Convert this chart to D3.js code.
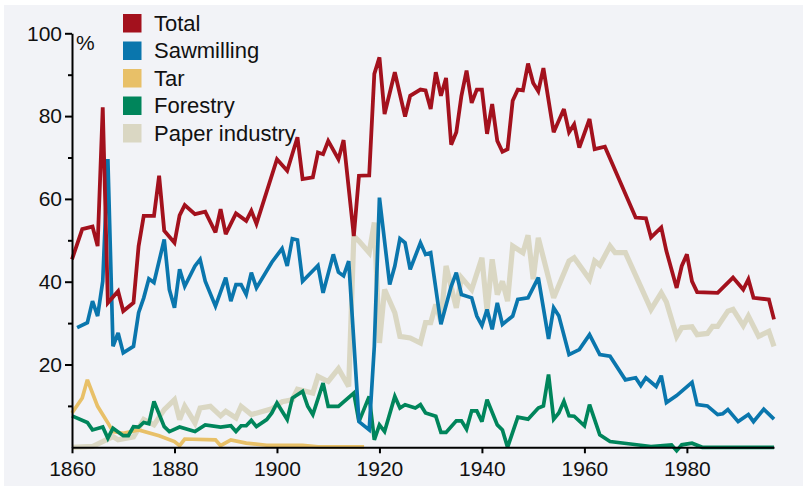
<!DOCTYPE html>
<html>
<head>
<meta charset="utf-8">
<script src="https://cdn.jsdelivr.net/npm/d3@7"></script>
<style>
  html, body { margin: 0; padding: 0; background: #fff; }
  svg { display: block; font-family: "Liberation Sans", Arial, Helvetica, sans-serif; }
</style>
</head>
<body>
<svg id="chart" width="803" height="486"></svg>
<script>
// Share of each branch, % per year: [year, value]
const total = [
  [1860,45.4],[1862,52.7],[1864,53.3],[1865,48.6],[1866,82.1],[1867,34.9],[1869,37.7],[1870,32.9],
  [1872,34.9],[1873,48.6],[1874,55.9],[1876,55.9],[1877,65.6],[1878,52.3],[1880,49.4],[1881,56.0],
  [1882,58.5],[1884,56.3],[1886,56.9],[1888,51.9],[1889,57.5],[1890,51.5],[1892,56.5],[1894,54.7],
  [1895,57.1],[1896,54.0],[1900,69.6],[1902,66.8],[1904,74.9],[1905,64.8],[1907,65.2],[1908,71.2],
  [1909,70.8],[1910,74.0],[1912,69.6],[1913,74.2],[1915,51.0],[1916,65.6],[1918,65.7],[1919,90.2],
  [1920,94.2],[1921,80.5],[1923,90.6],[1925,79.9],[1926,84.9],[1928,86.4],[1929,86.2],[1930,81.7],
  [1931,90.6],[1932,84.9],[1933,89.2],[1934,73.1],[1935,76.1],[1936,84.9],[1937,91.0],[1938,83.2],
  [1939,86.4],[1940,86.4],[1941,75.7],[1942,82.9],[1943,74.0],[1944,71.4],[1945,72.0],[1946,83.7],
  [1947,86.4],[1948,86.2],[1949,92.7],[1950,88.0],[1951,86.0],[1952,91.6],[1954,76.1],[1956,81.7],
  [1957,76.1],[1958,78.0],[1959,72.4],[1961,79.3],[1962,72.0],[1964,72.6],[1970,55.5],[1972,55.3],
  [1973,50.7],[1975,53.1],[1976,47.4],[1978,38.5],[1979,43.8],[1980,46.6],[1981,40.1],[1982,37.5],
  [1986,37.3],[1989,41.0],[1991,38.1],[1992,40.6],[1993,36.1],[1996,35.7],[1997,30.9]
];

const sawmilling = [
  [1861,28.9],[1863,30.1],[1864,35.3],[1865,31.7],[1866,40.1],[1867,69.6],[1868,24.4],[1869,27.6],
  [1870,22.8],[1872,24.4],[1873,32.5],[1874,36.1],[1875,40.7],[1876,39.8],[1878,50.2],[1879,38.1],
  [1880,33.7],[1881,43.0],[1882,38.9],[1884,43.8],[1885,45.4],[1886,40.1],[1888,34.1],[1890,41.0],
  [1891,35.3],[1892,39.3],[1893,39.3],[1894,36.9],[1895,42.2],[1896,38.5],[1899,44.7],[1901,48.0],
  [1902,43.8],[1903,50.4],[1904,50.1],[1905,40.1],[1908,43.9],[1909,37.3],[1911,46.6],[1912,42.3],
  [1913,41.4],[1914,45.0],[1916,6.2],[1918,4.2],[1919,24.4],[1920,60.3],[1922,39.3],[1923,43.8],
  [1924,50.4],[1925,49.4],[1926,43.0],[1928,49.4],[1929,46.6],[1930,47.0],[1932,29.7],[1934,38.9],
  [1935,42.2],[1936,36.9],[1938,36.1],[1939,31.7],[1940,29.4],[1941,33.3],[1942,28.5],[1943,34.9],
  [1944,29.7],[1946,31.7],[1947,35.7],[1949,36.1],[1951,41.0],[1953,26.2],[1954,33.7],[1955,31.8],
  [1957,22.4],[1959,23.6],[1961,27.2],[1963,22.4],[1965,22.0],[1968,16.3],[1970,16.8],[1971,14.9],
  [1972,16.8],[1974,14.7],[1975,17.3],[1976,10.8],[1978,12.5],[1981,15.7],[1982,10.3],[1984,10.0],
  [1986,7.9],[1987,8.1],[1988,9.1],[1990,6.2],[1992,7.9],[1993,6.2],[1995,9.2],[1997,6.8]
];

const tar = [
  [1860,8.3],[1862,11.9],[1863,16.3],[1865,9.9],[1867,5.9],[1868,3.8],[1870,3.4],[1873,4.2],
  [1877,2.8],[1880,1.4],[1881,0.4],[1882,2.0],[1888,1.8],[1889,0.4],[1891,1.8],[1894,1.0],
  [1898,0.5],[1905,0.5],[1908,0.1],[1917,0.1]
];

const forestry = [
  [1860,7.6],[1863,6.0],[1864,4.2],[1866,4.9],[1867,2.2],[1868,4.6],[1870,2.8],[1871,2.8],
  [1872,5.0],[1873,4.9],[1874,6.0],[1875,5.7],[1876,11.1],[1878,5.0],[1879,3.8],[1881,4.9],
  [1884,3.8],[1886,5.4],[1889,4.9],[1891,5.2],[1892,3.8],[1893,5.2],[1894,5.2],[1895,6.5],
  [1896,5.0],[1898,6.7],[1899,8.3],[1900,10.7],[1902,6.7],[1903,11.9],[1905,13.5],[1906,9.9],
  [1907,7.9],[1909,15.5],[1910,9.9],[1912,9.9],[1915,13.1],[1916,6.2],[1918,12.3],[1919,1.8],
  [1920,5.4],[1921,3.8],[1923,12.3],[1924,9.5],[1925,10.3],[1927,9.5],[1928,10.3],[1929,8.3],
  [1931,7.5],[1932,3.6],[1933,3.6],[1935,6.4],[1936,6.4],[1937,4.4],[1938,8.8],[1939,8.8],
  [1940,6.2],[1941,11.5],[1943,5.4],[1944,4.2],[1945,0.0],[1947,7.3],[1949,6.8],[1951,9.5],
  [1952,10.0],[1953,17.6],[1954,6.8],[1955,8.3],[1956,11.1],[1957,7.6],[1958,7.5],[1960,5.2],
  [1961,10.3],[1963,3.0],[1965,1.4],[1969,0.8],[1973,0.2],[1977,0.6],[1978,-0.8],[1979,0.6],
  [1981,1.0],[1983,0.0],[1997,0.0]
];

const paper = [
  [1860,0.0],[1864,0.2],[1868,2.6],[1869,1.8],[1872,2.5],[1874,6.7],[1876,5.4],[1878,9.1],
  [1880,11.5],[1881,6.7],[1882,9.9],[1884,5.9],[1885,9.5],[1887,9.9],[1889,7.6],[1890,8.7],
  [1892,7.1],[1893,9.9],[1895,7.9],[1899,9.3],[1901,11.0],[1903,11.5],[1904,14.0],[1907,13.1],
  [1908,17.1],[1910,15.9],[1912,19.0],[1914,14.7],[1915,51.0],[1916,49.8],[1918,47.0],[1919,54.3],
  [1920,25.2],[1921,38.1],[1923,32.5],[1924,26.8],[1926,26.4],[1928,25.2],[1929,30.1],[1930,30.1],
  [1931,34.5],[1932,30.5],[1933,43.8],[1935,33.7],[1936,41.0],[1938,38.1],[1940,45.8],[1941,32.9],
  [1942,45.4],[1943,36.9],[1944,40.1],[1945,35.3],[1946,48.6],[1948,47.0],[1949,51.2],[1950,40.6],
  [1951,50.6],[1954,36.1],[1957,45.0],[1958,45.8],[1961,40.6],[1962,45.0],[1963,44.0],[1965,48.6],
  [1966,47.0],[1968,47.0],[1973,33.3],[1975,37.3],[1976,35.1],[1978,26.8],[1979,28.9],[1981,29.1],
  [1982,27.2],[1984,27.5],[1985,29.2],[1986,29.2],[1988,32.9],[1989,33.3],[1991,29.4],[1992,31.7],
  [1994,26.8],[1996,28.0],[1997,24.4]
];

const yearTicks = [1860, 1880, 1900, 1920, 1940, 1960, 1980];
const pctTicks = [20, 40, 60, 80, 100];
const pctMinorTicks = [10, 30, 50, 70, 90];

const legendNames = ["Total", "Sawmilling", "Tar", "Forestry", "Paper industry"];
const legendColors = ["#a3111d", "#0a76ad", "#e8c068", "#00855b", "#dad7c3"];

const svg = d3.select("#chart");

// panel background
svg.append("rect")
  .attr("x", 4).attr("y", 5)
  .attr("width", 799).attr("height", 481)
  .attr("fill", "#f2f3f7");

const x = d3.scaleLinear().domain([1860, 1997]).range([72, 774]);
const y = d3.scaleLinear().domain([0, 100]).range([447.3, 33.3]);

const line = d3.line()
  .x(d => x(d[0]))
  .y(d => y(d[1]));

// series, back to front
const seriesDraw = [
  { data: paper,      color: legendColors[4], width: 5.2 },
  { data: tar,        color: legendColors[2], width: 3.7 },
  { data: forestry,   color: legendColors[3], width: 3.7 },
  { data: sawmilling, color: legendColors[1], width: 3.7 },
  { data: total,      color: legendColors[0], width: 3.8 }
];

const plot = svg.append("g");
seriesDraw.forEach(s => {
  plot.append("path")
    .datum(s.data)
    .attr("fill", "none")
    .attr("stroke", s.color)
    .attr("stroke-width", s.width)
    .attr("stroke-linejoin", "miter")
    .attr("stroke-miterlimit", 3)
    .attr("d", line);
});

// axes
const yAxis = svg.append("g")
  .attr("transform", `translate(${x(1860)},0)`)
  .call(d3.axisLeft(y).tickValues(pctTicks).tickSize(7).tickPadding(3).tickSizeOuter(0));
const yMinor = svg.append("g")
  .attr("transform", `translate(${x(1860)},0)`)
  .call(d3.axisLeft(y).tickValues(pctMinorTicks).tickSize(4).tickFormat("").tickSizeOuter(0));
yMinor.select(".domain").remove();

const xAxis = svg.append("g")
  .attr("transform", `translate(0,${y(0)})`)
  .call(d3.axisBottom(x).tickValues(yearTicks).tickFormat(d3.format("d"))
    .tickSize(6).tickPadding(8).tickSizeOuter(0));

[yAxis, yMinor, xAxis].forEach(g => {
  g.selectAll(".domain").attr("stroke", "#000").attr("stroke-width", 2);
  g.selectAll(".tick line").attr("stroke", "#000").attr("stroke-width", 2);
  g.selectAll(".tick text")
    .attr("fill", "#111")
    .style("font-size", "21px")
    .style("font-family", "'Liberation Sans', Arial, Helvetica, sans-serif");
});

svg.append("text")
  .attr("x", x(1860) + 4)
  .attr("y", 50)
  .attr("fill", "#111")
  .style("font-size", "21px")
  .text("%");

// legend
const legend = svg.append("g").attr("transform", "translate(123,14)");
legendNames.forEach((name, i) => {
  const row = legend.append("g").attr("transform", `translate(0,${i * 27.5})`);
  row.append("rect")
    .attr("width", 18.5).attr("height", 18.5)
    .attr("fill", legendColors[i]);
  row.append("text")
    .attr("x", 31)
    .attr("y", 16.5)
    .attr("fill", "#111")
    .style("font-size", "22px")
    .text(name);
});
</script>
</body>
</html>
